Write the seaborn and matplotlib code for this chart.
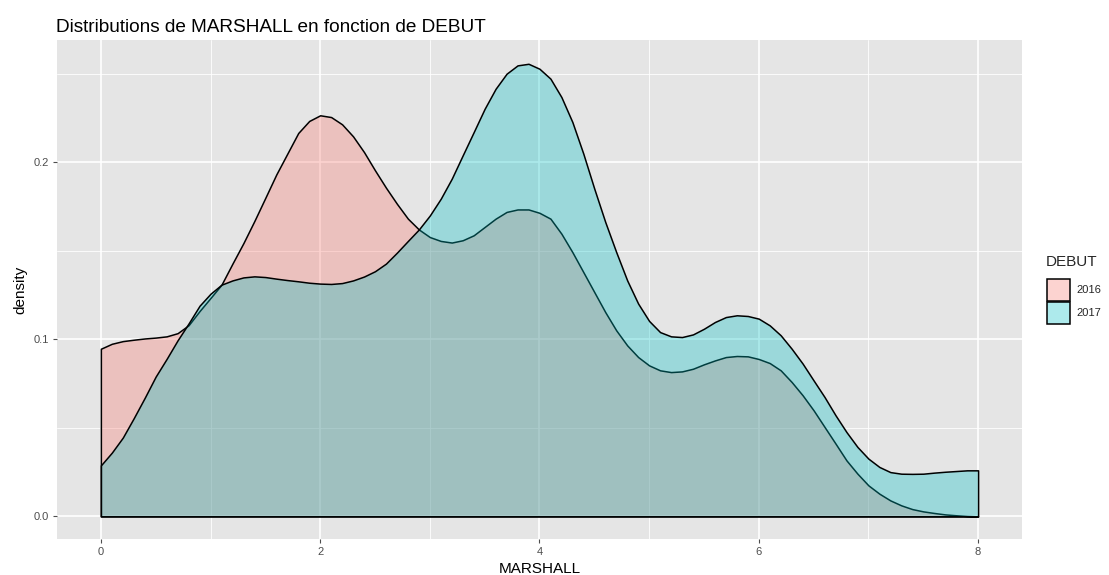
import numpy as np
import pandas as pd
import matplotlib.pyplot as plt
import seaborn as sns
from matplotlib.patches import Patch
from matplotlib.ticker import MultipleLocator

# Density values, every 0.1 of MARSHALL (0 .. 8)
marshall = [round(i * 0.1, 1) for i in range(81)]

density_2016 = [0.0947, 0.0975, 0.0990, 0.0998, 0.1005, 0.1010, 0.1017, 0.1035, 0.1080, 0.1160,
                0.1234, 0.1309, 0.1428, 0.1544, 0.1669, 0.1800, 0.1932, 0.2049, 0.2166, 0.2234,
                0.2266, 0.2256, 0.2215, 0.2147, 0.2058, 0.1955, 0.1857, 0.1766, 0.1682, 0.1621,
                0.1578, 0.1556, 0.1547, 0.1560, 0.1588, 0.1635, 0.1682, 0.1720, 0.1734, 0.1734,
                0.1715, 0.1682, 0.1597, 0.1493, 0.1380, 0.1267, 0.1154, 0.1051, 0.0966, 0.0900,
                0.0853, 0.0825, 0.0815, 0.0819, 0.0834, 0.0859, 0.0881, 0.0900, 0.0906, 0.0904,
                0.0889, 0.0866, 0.0825, 0.0759, 0.0684, 0.0599, 0.0505, 0.0411, 0.0316, 0.0241,
                0.0175, 0.0128, 0.0090, 0.0062, 0.0041, 0.0028, 0.0019, 0.0011, 0.0006, 0.0002,
                0.0]

density_2017 = [0.0288, 0.0360, 0.0445, 0.0555, 0.0670, 0.0790, 0.0890, 0.0995, 0.1090, 0.1190,
                0.1258, 0.1309, 0.1333, 0.1350, 0.1356, 0.1352, 0.1343, 0.1335, 0.1328, 0.1320,
                0.1315, 0.1313, 0.1318, 0.1333, 0.1355, 0.1385, 0.1428, 0.1490, 0.1556, 0.1621,
                0.1700, 0.1795, 0.1908, 0.2040, 0.2171, 0.2303, 0.2416, 0.2501, 0.2548, 0.2557,
                0.2529, 0.2473, 0.2369, 0.2228, 0.2049, 0.1851, 0.1663, 0.1493, 0.1333, 0.1202,
                0.1104, 0.1041, 0.1017, 0.1013, 0.1028, 0.1060, 0.1098, 0.1126, 0.1136, 0.1132,
                0.1117, 0.1079, 0.1023, 0.0947, 0.0863, 0.0768, 0.0674, 0.0571, 0.0476, 0.0392,
                0.0326, 0.0279, 0.0250, 0.0241, 0.0240, 0.0241, 0.0247, 0.0252, 0.0256, 0.0260,
                0.0260]

years = ["2016", "2017"]
colors = {"2016": "#F8766D", "2017": "#00BFC4"}
fill_alpha = 0.32

df = pd.DataFrame({
    "MARSHALL": marshall * 2,
    "density": density_2016 + density_2017,
    "DEBUT": ["2016"] * len(marshall) + ["2017"] * len(marshall),
})

# ggplot2-like grey theme
sns.set_theme(style="darkgrid", rc={
    "axes.facecolor": "#E5E5E5",
    "grid.color": "white",
    "axes.edgecolor": "#E5E5E5",
    "xtick.color": "#4D4D4D",
    "ytick.color": "#4D4D4D",
    "xtick.bottom": True,
    "ytick.left": True,
    "xtick.major.size": 3,
    "ytick.major.size": 3,
    "xtick.major.width": 0.8,
    "ytick.major.width": 0.8,
})
plt.rcParams["font.family"] = ["Liberation Sans", "DejaVu Sans"]

fig = plt.figure(figsize=(11.09, 5.75), dpi=100)
ax = fig.add_axes([0.0514, 0.0626, 0.8701, 0.8674])

for yr in years:
    sub = df[df["DEBUT"] == yr]
    rgba = (*plt.matplotlib.colors.to_rgb(colors[yr]), fill_alpha)
    ax.fill_between(sub["MARSHALL"], 0, sub["density"], facecolor=rgba,
                    edgecolor="black", linewidth=1.1, zorder=3)

ax.set_xlim(-0.4, 8.4)
ax.set_ylim(-0.0128, 0.269)
ax.xaxis.set_minor_locator(MultipleLocator(1))
ax.yaxis.set_minor_locator(MultipleLocator(0.05))
ax.set_xticks([0, 2, 4, 6, 8], labels=["0", "2", "4", "6", "8"])
ax.set_yticks([0.0, 0.1, 0.2], labels=["0.0", "0.1", "0.2"])
ax.grid(which="major", color="white", linewidth=1.2)
ax.grid(which="minor", color="white", linewidth=0.6)
ax.tick_params(axis="both", which="major", labelsize=8, pad=3)
ax.tick_params(axis="both", which="minor", length=0)
for s in ax.spines.values():
    s.set_visible(False)

ax.set_xlabel("MARSHALL", fontsize=11, color="black", labelpad=3)
ax.set_ylabel("density", fontsize=11, color="black", labelpad=4)

fig.text(0.0505, 0.953, "Distributions de MARSHALL en fonction de DEBUT",
         fontsize=13.7, ha="left", va="center", color="black")

# legend: title as separate text so the gap to the keys matches ggplot
fig.text(0.943, 1 - 262 / 575, "DEBUT", fontsize=11, ha="left", va="center")
handles = [Patch(facecolor=(*plt.matplotlib.colors.to_rgb(colors[y]), fill_alpha),
                 edgecolor="black", linewidth=1.1) for y in years]
fig.legend(handles, years, loc="upper left",
           bbox_to_anchor=(0.944, 1 - 279 / 575), frameon=False, fontsize=8,
           handlelength=2.1, handleheight=2.7, labelspacing=0.05,
           handletextpad=0.6, borderaxespad=0, borderpad=0)

fig.savefig("out.png", dpi=100)
